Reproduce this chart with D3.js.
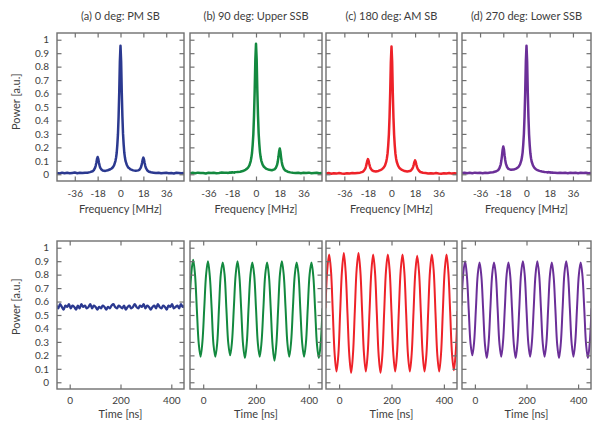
<!DOCTYPE html>
<html><head><meta charset="utf-8">
<script src="https://cdn.jsdelivr.net/npm/d3@7"></script>
<style>body{margin:0;background:#fff} text{font-family:Lato,"Open Sans",sans-serif;}</style>
</head><body><svg id="c" width="596" height="423"></svg>
<script>
// ---------- data ----------
const panelTitles = ["(a) 0 deg: PM SB", "(b) 90 deg: Upper SSB", "(c) 180 deg: AM SB", "(d) 270 deg: Lower SSB"];
const seriesColors = ["#2b3990", "#13893f", "#ee2229", "#6b2f98"];

const freq = [-50,-48,-46,-44,-42,-40,-38,-36,-34,-32,-30,-28,-26,-24,-22,-21,-20,-19.5,-19,-18.5,-18,-17.5,-17,-16.5,-16,-15,-14,-12,-10,-8,-7,-6,-5,-4,-3.5,-3,-2.5,-2,-1.5,-1,-0.5,0,
  0.5,1,1.5,2,2.5,3,3.5,4,5,6,7,8,10,12,14,15,16,16.5,17,17.5,18,18.5,19,19.5,20,21,22,24,26,28,30,32,34,36,38,40,42,44,46,48,50];

const specPM = [0.010,0.006,0.012,0.008,0.011,0.007,0.010,0.013,0.008,0.011,0.009,0.012,0.012,0.016,
  0.022,0.031,0.049,0.065,0.086,0.114,0.128,0.114,0.087,0.066,0.050,0.035,0.028,0.025,0.030,0.037,0.043,0.052,0.068,0.098,0.123,0.158,0.218,0.298,0.428,0.608,0.838,0.955,
  0.84,0.61,0.43,0.30,0.22,0.16,0.124,0.097,0.069,0.051,0.044,0.036,0.029,0.026,0.029,0.034,0.049,0.064,0.085,0.110,0.124,0.110,0.084,0.063,0.048,0.030,
  0.021,0.015,0.012,0.009,0.011,0.007,0.010,0.012,0.008,0.010,0.006,0.011,0.009,0.007,0.010];
const specUSB = [0.008,0.011,0.007,0.012,0.009,0.010,0.006,0.011,0.009,0.012,0.008,0.010,0.013,0.011,
  0.012,0.010,0.013,0.011,0.014,0.012,0.015,0.013,0.014,0.012,0.015,0.016,0.017,0.019,0.024,0.033,0.040,0.050,0.066,0.098,0.124,0.160,0.220,0.300,0.435,0.62,0.85,0.97,
  0.855,0.625,0.44,0.305,0.225,0.165,0.128,0.102,0.072,0.056,0.047,0.040,0.033,0.030,0.036,0.047,0.070,0.094,0.128,0.170,0.192,0.168,0.126,0.092,0.067,0.042,
  0.029,0.019,0.014,0.011,0.009,0.012,0.008,0.011,0.009,0.012,0.007,0.010,0.012,0.008,0.010];
const specAM = [0.006,0.009,0.004,0.008,0.005,0.009,0.006,0.004,0.008,0.006,0.009,0.007,0.010,0.012,
  0.018,0.027,0.042,0.057,0.077,0.100,0.113,0.101,0.078,0.059,0.045,0.031,0.025,0.021,0.025,0.033,0.040,0.049,0.065,0.094,0.12,0.155,0.215,0.295,0.425,0.605,0.835,0.95,
  0.835,0.60,0.42,0.292,0.212,0.153,0.118,0.093,0.064,0.048,0.039,0.032,0.024,0.021,0.024,0.029,0.042,0.055,0.072,0.092,0.103,0.091,0.071,0.053,0.040,0.026,
  0.017,0.011,0.009,0.006,0.008,0.005,0.009,0.006,0.004,0.008,0.006,0.009,0.005,0.007,0.006];
const specLSB = [0.009,0.012,0.008,0.011,0.007,0.012,0.009,0.011,0.008,0.012,0.010,0.013,0.015,0.020,
  0.030,0.045,0.072,0.100,0.138,0.183,0.207,0.186,0.142,0.106,0.079,0.052,0.040,0.033,0.035,0.042,0.048,0.057,0.073,0.103,0.128,0.163,0.223,0.303,0.433,0.612,0.84,0.955,
  0.838,0.605,0.425,0.295,0.215,0.156,0.12,0.095,0.066,0.050,0.040,0.033,0.025,0.020,0.017,0.016,0.015,0.013,0.016,0.014,0.015,0.012,0.014,0.012,0.013,0.011,
  0.012,0.010,0.012,0.009,0.011,0.008,0.012,0.009,0.011,0.008,0.012,0.009,0.011,0.008,0.010];

const time = [-52,-45,-38,-31,-24,-17,-10,-3,4,11,18,25,32,39,46,53,60,67,74,81,88,95,102,109,116,123,130,137,144,151,158,165,172,179,186,193,200,
  207,214,221,228,235,242,249,256,263,270,277,284,291,298,305,312,319,326,333,340,347,354,361,368,375,382,389,396,403,410,417,424,431,438,445,452];

const tracePM = [0.57,0.55,0.58,0.56,0.54,0.57,0.56,0.58,0.55,0.57,
  0.56,0.54,0.57,0.55,0.58,0.56,0.57,0.55,0.56,0.58,
  0.55,0.57,0.56,0.54,0.56,0.55,0.57,0.56,0.54,0.56,
  0.55,0.57,0.58,0.56,0.55,0.57,0.56,0.55,0.57,0.54,
  0.56,0.57,0.55,0.56,0.58,0.56,0.55,0.57,0.56,0.58,
  0.55,0.57,0.56,0.54,0.56,0.57,0.55,0.58,0.56,0.55,
  0.57,0.56,0.54,0.57,0.56,0.58,0.55,0.56,0.57,0.55,
  0.58,0.56,0.57];
const traceUSB = [0.56,0.81,0.91,0.80,0.54,0.29,0.19,0.30,
  0.55,0.80,0.90,0.79,0.55,0.28,0.19,0.29,
  0.56,0.81,0.89,0.80,0.54,0.29,0.20,0.30,
  0.55,0.80,0.90,0.79,0.54,0.28,0.18,0.29,
  0.56,0.80,0.89,0.80,0.55,0.29,0.19,0.30,
  0.55,0.80,0.89,0.79,0.54,0.27,0.16,0.28,
  0.55,0.81,0.90,0.80,0.55,0.29,0.19,0.30,
  0.56,0.80,0.89,0.80,0.54,0.29,0.19,0.29,
  0.55,0.80,0.89,0.79,0.54,0.28,0.18,0.29,
  0.55];
const traceAM = [0.55,0.84,0.95,0.83,0.52,0.21,0.08,0.20,
  0.52,0.83,0.96,0.82,0.51,0.20,0.07,0.21,
  0.53,0.84,0.96,0.83,0.52,0.21,0.08,0.21,
  0.52,0.82,0.95,0.82,0.51,0.20,0.07,0.20,
  0.52,0.83,0.95,0.83,0.52,0.21,0.08,0.21,
  0.53,0.83,0.95,0.82,0.51,0.20,0.08,0.21,
  0.52,0.82,0.94,0.82,0.52,0.21,0.08,0.20,
  0.52,0.83,0.95,0.83,0.51,0.20,0.08,0.21,
  0.53,0.83,0.95,0.82,0.52,0.21,0.09,0.22,
  0.53];
const traceLSB = [0.57,0.81,0.90,0.79,0.54,0.29,0.20,0.30,
  0.55,0.80,0.89,0.79,0.54,0.28,0.18,0.29,
  0.55,0.80,0.89,0.80,0.55,0.29,0.19,0.30,
  0.55,0.80,0.89,0.79,0.54,0.28,0.18,0.29,
  0.55,0.81,0.90,0.80,0.54,0.29,0.19,0.30,
  0.55,0.80,0.90,0.80,0.55,0.29,0.19,0.29,
  0.55,0.80,0.89,0.79,0.54,0.28,0.18,0.29,
  0.55,0.81,0.90,0.80,0.55,0.29,0.19,0.30,
  0.56,0.80,0.89,0.79,0.54,0.28,0.18,0.29,
  0.55];

const powerTicks = [0,0.1,0.2,0.3,0.4,0.5,0.6,0.7,0.8,0.9,1];
const freqTicks = [-36,-18,0,18,36];
const timeTicks = [0,200,400];

// ---------- layout ----------
const panelLeft = [57,190,326,462];
const panelRight = [184,322,457,591];
const rowTop = [33,241], rowBottom = [181,389];
const frameColor = "#707070", textColor = "#3d3d3d";

const svg = d3.select("#c");
const spectra = [specPM, specUSB, specAM, specLSB];
const traces = [tracePM, traceUSB, traceAM, traceLSB];

for (let r = 0; r < 2; r++) {
  for (let i = 0; i < 4; i++) {
    const L = panelLeft[i], R = panelRight[i], T = rowTop[r], B = rowBottom[r];
    const x = d3.scaleLinear().domain(r === 0 ? [-50,50] : [-50,450]).range([L,R]);
    const y = d3.scaleLinear().domain([-0.05,1.05]).range([B,T]);
    const g = svg.append("g");
    const cid = `clip${r}${i}`;
    svg.append("clipPath").attr("id", cid).append("rect")
      .attr("x", L).attr("y", T).attr("width", R-L).attr("height", B-T);

    const xs = r === 0 ? freq : time;
    const ys = r === 0 ? spectra[i] : traces[i];
    const line = d3.line().x(d => x(d[0])).y(d => y(d[1]))
      .curve(r === 0 ? d3.curveLinear : d3.curveCatmullRom);
    g.append("path").attr("clip-path", `url(#${cid})`)
      .attr("d", line(xs.map((v,k) => [v, ys[k]])))
      .attr("fill","none").attr("stroke", seriesColors[i])
      .attr("stroke-width", r === 0 ? 2.5 : (i === 0 ? 2.3 : 2.0)).attr("stroke-linejoin","round");

    const xt = r === 0 ? freqTicks : timeTicks;
    const fmtX = d => (d < 0 ? "-" + Math.abs(d) : String(d));
    const bottomAx = g.append("g").attr("transform", `translate(0,${B})`)
      .call(d3.axisBottom(x).tickValues(xt).tickSize(-4.5).tickPadding(r === 0 ? 9 : 8).tickFormat(fmtX));
    const topAx = g.append("g").attr("transform", `translate(0,${T})`)
      .call(d3.axisTop(x).tickValues(xt).tickSize(-4.5).tickFormat(""));
    const leftAx = g.append("g").attr("transform", `translate(${L},0)`)
      .call(d3.axisLeft(y).tickValues(powerTicks).tickSize(-4.5).tickPadding(8)
        .tickFormat(i === 0 ? (d => String(d)) : ""));
    const rightAx = g.append("g").attr("transform", `translate(${R},0)`)
      .call(d3.axisRight(y).tickValues(powerTicks).tickSize(-4.5).tickFormat(""));
    [bottomAx, topAx, leftAx, rightAx].forEach(a => {
      a.select(".domain").remove();
      a.selectAll("line").attr("stroke", frameColor).attr("stroke-width", 1.2);
      a.selectAll("text").attr("fill", textColor).style("font-size", "10px")
        .style("font-family", "Lato, 'Open Sans', sans-serif");
    });

    g.append("rect").attr("x", L).attr("y", T).attr("width", R-L).attr("height", B-T)
      .attr("fill","none").attr("stroke", frameColor).attr("stroke-width", 1.4);

    g.append("text").attr("x", (L+R)/2).attr("y", r === 0 ? 212.5 : 417.5)
      .attr("text-anchor","middle").attr("fill", textColor).style("font-size","11px")
      .text(r === 0 ? "Frequency [MHz]" : "Time [ns]");

    if (r === 0) {
      g.append("text").attr("x", (L+R)/2).attr("y", 19.5)
        .attr("text-anchor","middle").attr("fill", textColor).style("font-size","11px")
        .text(panelTitles[i]);
    }
    if (i === 0) {
      const cy = r === 0 ? 101.7 : 306.7;
      g.append("text").attr("transform", `translate(19.5,${cy}) rotate(-90)`)
        .attr("text-anchor","middle").attr("fill", textColor).style("font-size","11px")
        .text("Power [a.u.]");
    }
  }
}
</script></body></html>
